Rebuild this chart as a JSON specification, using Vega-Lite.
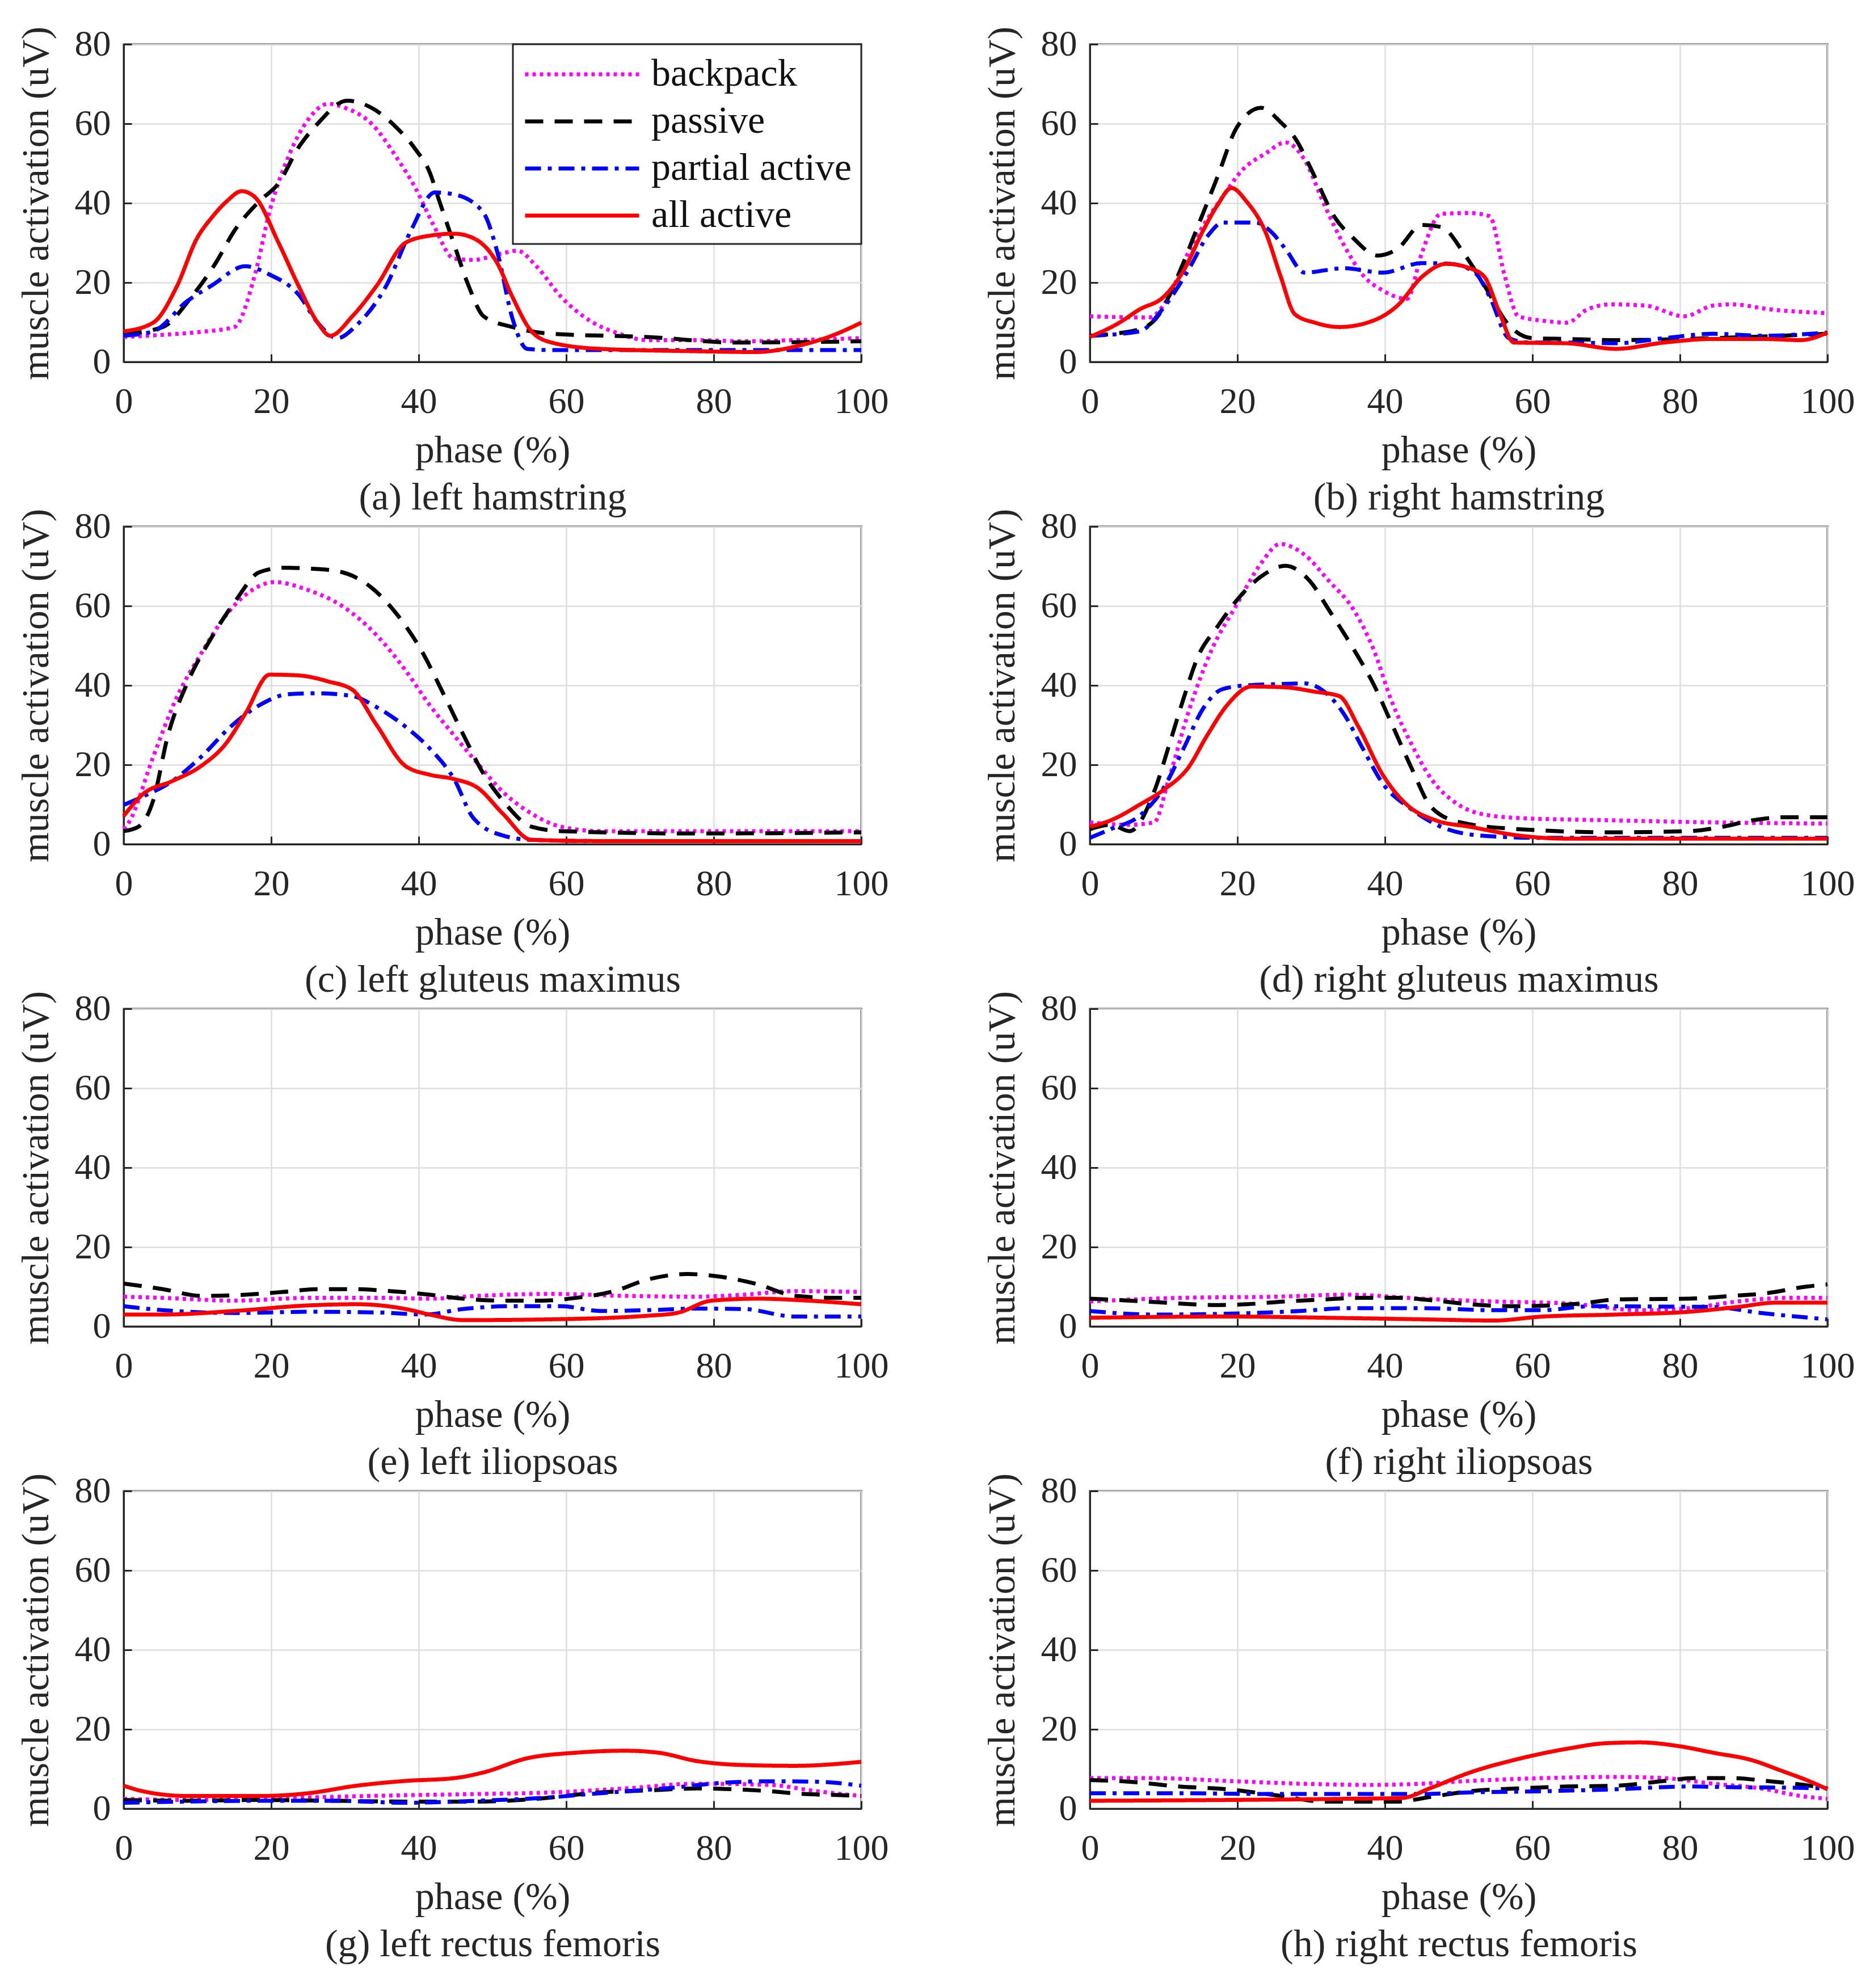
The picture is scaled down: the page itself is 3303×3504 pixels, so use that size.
{
  "$schema": "https://vega.github.io/schema/vega-lite/v6.json",
  "background": "white",
  "padding": {"left": 28, "top": 44, "right": 20, "bottom": 10},
  "datasets": {
    "emg": [
      {"panel":"a","cond":"backpack","x":0,"y":6.3},{"panel":"a","cond":"backpack","x":5,"y":6.8},{"panel":"a","cond":"backpack","x":10,"y":7.5},{"panel":"a","cond":"backpack","x":15,"y":8.8},{"panel":"a","cond":"backpack","x":17.8,"y":22},{"panel":"a","cond":"backpack","x":19.8,"y":38},{"panel":"a","cond":"backpack","x":22.4,"y":52},{"panel":"a","cond":"backpack","x":25,"y":61},{"panel":"a","cond":"backpack","x":27.7,"y":65},{"panel":"a","cond":"backpack","x":30,"y":64},{"panel":"a","cond":"backpack","x":33.6,"y":60},{"panel":"a","cond":"backpack","x":37,"y":51.5},{"panel":"a","cond":"backpack","x":39.5,"y":44},{"panel":"a","cond":"backpack","x":42,"y":34.5},{"panel":"a","cond":"backpack","x":44.8,"y":26},{"panel":"a","cond":"backpack","x":47.4,"y":25.7},{"panel":"a","cond":"backpack","x":51.4,"y":27.4},{"panel":"a","cond":"backpack","x":53.4,"y":28},{"panel":"a","cond":"backpack","x":56,"y":24},{"panel":"a","cond":"backpack","x":59.3,"y":16.4},{"panel":"a","cond":"backpack","x":63.2,"y":10.4},{"panel":"a","cond":"backpack","x":67.2,"y":7.1},{"panel":"a","cond":"backpack","x":71,"y":5.5},{"panel":"a","cond":"backpack","x":77.7,"y":5.5},{"panel":"a","cond":"backpack","x":84,"y":5.2},{"panel":"a","cond":"backpack","x":91,"y":5.5},{"panel":"a","cond":"backpack","x":100,"y":6},
      {"panel":"a","cond":"passive","x":0,"y":7},{"panel":"a","cond":"passive","x":5.3,"y":8.8},{"panel":"a","cond":"passive","x":9.2,"y":16.4},{"panel":"a","cond":"passive","x":12.5,"y":25},{"panel":"a","cond":"passive","x":15,"y":33},{"panel":"a","cond":"passive","x":18.4,"y":40.5},{"panel":"a","cond":"passive","x":21,"y":45},{"panel":"a","cond":"passive","x":23.7,"y":54},{"panel":"a","cond":"passive","x":26.3,"y":60},{"panel":"a","cond":"passive","x":30.3,"y":65.8},{"panel":"a","cond":"passive","x":33.6,"y":64},{"panel":"a","cond":"passive","x":37,"y":59},{"panel":"a","cond":"passive","x":39.5,"y":53.7},{"panel":"a","cond":"passive","x":41.5,"y":47.7},{"panel":"a","cond":"passive","x":42.8,"y":40.5},{"panel":"a","cond":"passive","x":44.8,"y":29.6},{"panel":"a","cond":"passive","x":46.8,"y":19},{"panel":"a","cond":"passive","x":48.8,"y":11.5},{"panel":"a","cond":"passive","x":52.7,"y":8.8},{"panel":"a","cond":"passive","x":58,"y":7.1},{"panel":"a","cond":"passive","x":71,"y":6.3},{"panel":"a","cond":"passive","x":83,"y":4.9},{"panel":"a","cond":"passive","x":100,"y":5.2},
      {"panel":"a","cond":"partial active","x":0,"y":6.6},{"panel":"a","cond":"partial active","x":4,"y":7.7},{"panel":"a","cond":"partial active","x":8.6,"y":15.3},{"panel":"a","cond":"partial active","x":11.9,"y":19.2},{"panel":"a","cond":"partial active","x":16.5,"y":24.1},{"panel":"a","cond":"partial active","x":19.8,"y":22},{"panel":"a","cond":"partial active","x":23.7,"y":17},{"panel":"a","cond":"partial active","x":26.3,"y":9.9},{"panel":"a","cond":"partial active","x":29,"y":6},{"panel":"a","cond":"partial active","x":31.6,"y":9.3},{"panel":"a","cond":"partial active","x":35.6,"y":19.2},{"panel":"a","cond":"partial active","x":38.9,"y":32.9},{"panel":"a","cond":"partial active","x":42.2,"y":42.7},{"panel":"a","cond":"partial active","x":44.8,"y":42.2},{"panel":"a","cond":"partial active","x":48.7,"y":37.8},{"panel":"a","cond":"partial active","x":50.7,"y":27.4},{"panel":"a","cond":"partial active","x":52.7,"y":11},{"panel":"a","cond":"partial active","x":54.7,"y":3.3},{"panel":"a","cond":"partial active","x":58,"y":3},{"panel":"a","cond":"partial active","x":100,"y":3},
      {"panel":"a","cond":"all active","x":0,"y":7.7},{"panel":"a","cond":"all active","x":4,"y":9.9},{"panel":"a","cond":"all active","x":7.2,"y":19},{"panel":"a","cond":"all active","x":9.9,"y":31},{"panel":"a","cond":"all active","x":12,"y":36.5},{"panel":"a","cond":"all active","x":14,"y":40.5},{"panel":"a","cond":"all active","x":16,"y":43},{"panel":"a","cond":"all active","x":17.8,"y":41.5},{"panel":"a","cond":"all active","x":21,"y":30},{"panel":"a","cond":"all active","x":23.7,"y":19.2},{"panel":"a","cond":"all active","x":26.3,"y":9.9},{"panel":"a","cond":"all active","x":28,"y":6.6},{"panel":"a","cond":"all active","x":31,"y":11.5},{"panel":"a","cond":"all active","x":34.3,"y":19.2},{"panel":"a","cond":"all active","x":38.2,"y":30},{"panel":"a","cond":"all active","x":41.5,"y":31.8},{"panel":"a","cond":"all active","x":44.8,"y":32.3},{"panel":"a","cond":"all active","x":47.4,"y":31.2},{"panel":"a","cond":"all active","x":50.7,"y":24.7},{"panel":"a","cond":"all active","x":52.7,"y":16.4},{"panel":"a","cond":"all active","x":55.3,"y":7.7},{"panel":"a","cond":"all active","x":58,"y":4.9},{"panel":"a","cond":"all active","x":64.6,"y":3.3},{"panel":"a","cond":"all active","x":77.7,"y":2.7},{"panel":"a","cond":"all active","x":85.6,"y":2.5},{"panel":"a","cond":"all active","x":92.2,"y":4.4},{"panel":"a","cond":"all active","x":96,"y":6.6},{"panel":"a","cond":"all active","x":100,"y":9.9},

      {"panel":"b","cond":"backpack","x":0,"y":11.5},{"panel":"b","cond":"backpack","x":8,"y":11.2},{"panel":"b","cond":"backpack","x":10.7,"y":16.4},{"panel":"b","cond":"backpack","x":13.3,"y":27.4},{"panel":"b","cond":"backpack","x":15.8,"y":35.6},{"panel":"b","cond":"backpack","x":18,"y":41.6},{"panel":"b","cond":"backpack","x":20.6,"y":48.2},{"panel":"b","cond":"backpack","x":23.9,"y":52.6},{"panel":"b","cond":"backpack","x":26.5,"y":55.3},{"panel":"b","cond":"backpack","x":29.1,"y":50.9},{"panel":"b","cond":"backpack","x":31.8,"y":39.5},{"panel":"b","cond":"backpack","x":34.4,"y":29.6},{"panel":"b","cond":"backpack","x":37,"y":21.9},{"panel":"b","cond":"backpack","x":39.7,"y":18},{"panel":"b","cond":"backpack","x":43,"y":15.9},{"panel":"b","cond":"backpack","x":45,"y":27.4},{"panel":"b","cond":"backpack","x":47.6,"y":37.3},{"panel":"b","cond":"backpack","x":51.5,"y":37.5},{"panel":"b","cond":"backpack","x":54.2,"y":36.7},{"panel":"b","cond":"backpack","x":56.2,"y":22},{"panel":"b","cond":"backpack","x":58.1,"y":11.5},{"panel":"b","cond":"backpack","x":61.4,"y":10.4},{"panel":"b","cond":"backpack","x":64.7,"y":9.9},{"panel":"b","cond":"backpack","x":67.4,"y":13.2},{"panel":"b","cond":"backpack","x":70.7,"y":14.5},{"panel":"b","cond":"backpack","x":75.3,"y":14.2},{"panel":"b","cond":"backpack","x":80.6,"y":11.5},{"panel":"b","cond":"backpack","x":84.5,"y":14.2},{"panel":"b","cond":"backpack","x":87.1,"y":14.5},{"panel":"b","cond":"backpack","x":92.4,"y":13.2},{"panel":"b","cond":"backpack","x":100,"y":12.3},
      {"panel":"b","cond":"passive","x":0,"y":6.6},{"panel":"b","cond":"passive","x":6.7,"y":8.2},{"panel":"b","cond":"passive","x":9.4,"y":12},{"panel":"b","cond":"passive","x":12,"y":22},{"panel":"b","cond":"passive","x":14.6,"y":34},{"panel":"b","cond":"passive","x":17.3,"y":46.6},{"panel":"b","cond":"passive","x":19.9,"y":59},{"panel":"b","cond":"passive","x":23.2,"y":64},{"panel":"b","cond":"passive","x":25.9,"y":60.3},{"panel":"b","cond":"passive","x":27.8,"y":56.4},{"panel":"b","cond":"passive","x":30.5,"y":46.6},{"panel":"b","cond":"passive","x":33.1,"y":36.7},{"panel":"b","cond":"passive","x":35.7,"y":31.2},{"panel":"b","cond":"passive","x":39,"y":26.8},{"panel":"b","cond":"passive","x":41.7,"y":28.5},{"panel":"b","cond":"passive","x":45,"y":34.5},{"panel":"b","cond":"passive","x":47.6,"y":34},{"panel":"b","cond":"passive","x":50.9,"y":26.8},{"panel":"b","cond":"passive","x":53.5,"y":19.2},{"panel":"b","cond":"passive","x":56.8,"y":9.3},{"panel":"b","cond":"passive","x":60,"y":6},{"panel":"b","cond":"passive","x":64.7,"y":5.8},{"panel":"b","cond":"passive","x":71.3,"y":5.5},{"panel":"b","cond":"passive","x":84.5,"y":6},{"panel":"b","cond":"passive","x":100,"y":7.1},
      {"panel":"b","cond":"partial active","x":0,"y":6.6},{"panel":"b","cond":"partial active","x":6.7,"y":7.7},{"panel":"b","cond":"partial active","x":10,"y":13.7},{"panel":"b","cond":"partial active","x":13.3,"y":23},{"panel":"b","cond":"partial active","x":16,"y":31.8},{"panel":"b","cond":"partial active","x":18,"y":35.1},{"panel":"b","cond":"partial active","x":22.5,"y":35.1},{"panel":"b","cond":"partial active","x":24.5,"y":32.9},{"panel":"b","cond":"partial active","x":26.5,"y":28.5},{"panel":"b","cond":"partial active","x":29.1,"y":22.5},{"panel":"b","cond":"partial active","x":34.4,"y":23.6},{"panel":"b","cond":"partial active","x":39.7,"y":22.5},{"panel":"b","cond":"partial active","x":45,"y":24.9},{"panel":"b","cond":"partial active","x":48.9,"y":24.7},{"panel":"b","cond":"partial active","x":52.2,"y":22.5},{"panel":"b","cond":"partial active","x":54.2,"y":16.4},{"panel":"b","cond":"partial active","x":56.8,"y":6},{"panel":"b","cond":"partial active","x":59.5,"y":4.9},{"panel":"b","cond":"partial active","x":64.7,"y":4.9},{"panel":"b","cond":"partial active","x":71.3,"y":4.7},{"panel":"b","cond":"partial active","x":77.9,"y":6},{"panel":"b","cond":"partial active","x":84.5,"y":7.1},{"panel":"b","cond":"partial active","x":91.1,"y":6.6},{"panel":"b","cond":"partial active","x":100,"y":7.4},
      {"panel":"b","cond":"all active","x":0,"y":6.3},{"panel":"b","cond":"all active","x":4,"y":9.9},{"panel":"b","cond":"all active","x":6.7,"y":13.2},{"panel":"b","cond":"all active","x":10,"y":16.4},{"panel":"b","cond":"all active","x":12.7,"y":23},{"panel":"b","cond":"all active","x":15.3,"y":32.9},{"panel":"b","cond":"all active","x":17.3,"y":39.5},{"panel":"b","cond":"all active","x":19.2,"y":43.8},{"panel":"b","cond":"all active","x":21.2,"y":40.5},{"panel":"b","cond":"all active","x":23.9,"y":32.3},{"panel":"b","cond":"all active","x":25.8,"y":21.9},{"panel":"b","cond":"all active","x":27.8,"y":12},{"panel":"b","cond":"all active","x":30.5,"y":9.9},{"panel":"b","cond":"all active","x":33.8,"y":8.8},{"panel":"b","cond":"all active","x":38.4,"y":10.4},{"panel":"b","cond":"all active","x":41.7,"y":14.2},{"panel":"b","cond":"all active","x":45,"y":21.4},{"panel":"b","cond":"all active","x":48.3,"y":24.7},{"panel":"b","cond":"all active","x":51.5,"y":23.6},{"panel":"b","cond":"all active","x":53.5,"y":21.4},{"panel":"b","cond":"all active","x":55.5,"y":12.6},{"panel":"b","cond":"all active","x":57.5,"y":4.9},{"panel":"b","cond":"all active","x":64.7,"y":4.7},{"panel":"b","cond":"all active","x":71.3,"y":3.3},{"panel":"b","cond":"all active","x":77.9,"y":4.9},{"panel":"b","cond":"all active","x":84.5,"y":5.8},{"panel":"b","cond":"all active","x":91.1,"y":5.8},{"panel":"b","cond":"all active","x":96.4,"y":5.5},{"panel":"b","cond":"all active","x":100,"y":7.4},

      {"panel":"c","cond":"backpack","x":0,"y":3.8},{"panel":"c","cond":"backpack","x":0.7,"y":5.5},{"panel":"c","cond":"backpack","x":4,"y":22},{"panel":"c","cond":"backpack","x":7.2,"y":37},{"panel":"c","cond":"backpack","x":10.5,"y":48},{"panel":"c","cond":"backpack","x":13.8,"y":57.5},{"panel":"c","cond":"backpack","x":17.1,"y":63.6},{"panel":"c","cond":"backpack","x":20.4,"y":66},{"panel":"c","cond":"backpack","x":25,"y":64},{"panel":"c","cond":"backpack","x":29.6,"y":60},{"panel":"c","cond":"backpack","x":34.3,"y":52.6},{"panel":"c","cond":"backpack","x":38.2,"y":43.8},{"panel":"c","cond":"backpack","x":41.5,"y":35},{"panel":"c","cond":"backpack","x":44.8,"y":27.4},{"panel":"c","cond":"backpack","x":48,"y":20.3},{"panel":"c","cond":"backpack","x":51.4,"y":13.2},{"panel":"c","cond":"backpack","x":55.3,"y":7.7},{"panel":"c","cond":"backpack","x":59.3,"y":4.4},{"panel":"c","cond":"backpack","x":64.6,"y":3.3},{"panel":"c","cond":"backpack","x":100,"y":3.3},
      {"panel":"c","cond":"passive","x":0,"y":3.3},{"panel":"c","cond":"passive","x":2,"y":4.4},{"panel":"c","cond":"passive","x":4,"y":11},{"panel":"c","cond":"passive","x":6,"y":27.4},{"panel":"c","cond":"passive","x":8.6,"y":40.5},{"panel":"c","cond":"passive","x":11.9,"y":52},{"panel":"c","cond":"passive","x":15.2,"y":61.4},{"panel":"c","cond":"passive","x":18.4,"y":68.5},{"panel":"c","cond":"passive","x":21.7,"y":69.6},{"panel":"c","cond":"passive","x":26.3,"y":69.3},{"panel":"c","cond":"passive","x":29.6,"y":68.5},{"panel":"c","cond":"passive","x":33.6,"y":64.6},{"panel":"c","cond":"passive","x":37,"y":58},{"panel":"c","cond":"passive","x":40.2,"y":49.3},{"panel":"c","cond":"passive","x":43.5,"y":37.3},{"panel":"c","cond":"passive","x":46.1,"y":27.4},{"panel":"c","cond":"passive","x":48.7,"y":18},{"panel":"c","cond":"passive","x":51.4,"y":11},{"panel":"c","cond":"passive","x":55.3,"y":4.4},{"panel":"c","cond":"passive","x":59.3,"y":3.3},{"panel":"c","cond":"passive","x":77.7,"y":2.7},{"panel":"c","cond":"passive","x":100,"y":3},
      {"panel":"c","cond":"partial active","x":0,"y":9.9},{"panel":"c","cond":"partial active","x":2.6,"y":12},{"panel":"c","cond":"partial active","x":6.6,"y":15.9},{"panel":"c","cond":"partial active","x":10.5,"y":22},{"panel":"c","cond":"partial active","x":14.5,"y":29.6},{"panel":"c","cond":"partial active","x":18.4,"y":35},{"panel":"c","cond":"partial active","x":22.4,"y":37.8},{"panel":"c","cond":"partial active","x":26.3,"y":38},{"panel":"c","cond":"partial active","x":31,"y":37.3},{"panel":"c","cond":"partial active","x":34.3,"y":34.5},{"panel":"c","cond":"partial active","x":38.2,"y":29.6},{"panel":"c","cond":"partial active","x":41.5,"y":24.1},{"panel":"c","cond":"partial active","x":44.8,"y":16.4},{"panel":"c","cond":"partial active","x":47.4,"y":6.6},{"panel":"c","cond":"partial active","x":51.4,"y":2.2},{"panel":"c","cond":"partial active","x":55.3,"y":1.1},{"panel":"c","cond":"partial active","x":64.6,"y":0.8},{"panel":"c","cond":"partial active","x":100,"y":0.8},
      {"panel":"c","cond":"all active","x":0,"y":7.1},{"panel":"c","cond":"all active","x":2.6,"y":12.6},{"panel":"c","cond":"all active","x":6.6,"y":15.9},{"panel":"c","cond":"all active","x":10.5,"y":19.7},{"panel":"c","cond":"all active","x":13.8,"y":25.2},{"panel":"c","cond":"all active","x":16.5,"y":32.9},{"panel":"c","cond":"all active","x":19.8,"y":42.7},{"panel":"c","cond":"all active","x":23.7,"y":42.5},{"panel":"c","cond":"all active","x":27.7,"y":41},{"panel":"c","cond":"all active","x":31,"y":38.9},{"panel":"c","cond":"all active","x":34.3,"y":30},{"panel":"c","cond":"all active","x":38.2,"y":19.7},{"panel":"c","cond":"all active","x":41.5,"y":17.5},{"panel":"c","cond":"all active","x":44.8,"y":16.4},{"panel":"c","cond":"all active","x":48,"y":14.2},{"panel":"c","cond":"all active","x":51.4,"y":7.7},{"panel":"c","cond":"all active","x":55.3,"y":1.1},{"panel":"c","cond":"all active","x":64.6,"y":0.8},{"panel":"c","cond":"all active","x":100,"y":0.8},

      {"panel":"d","cond":"backpack","x":0,"y":5.5},{"panel":"d","cond":"backpack","x":5.4,"y":4.9},{"panel":"d","cond":"backpack","x":8.7,"y":5.5},{"panel":"d","cond":"backpack","x":10.7,"y":16.4},{"panel":"d","cond":"backpack","x":13.3,"y":32.9},{"panel":"d","cond":"backpack","x":16.6,"y":49.3},{"panel":"d","cond":"backpack","x":19.9,"y":60.3},{"panel":"d","cond":"backpack","x":23.2,"y":70.7},{"panel":"d","cond":"backpack","x":25.8,"y":75.6},{"panel":"d","cond":"backpack","x":29.1,"y":72.9},{"panel":"d","cond":"backpack","x":32.4,"y":66.3},{"panel":"d","cond":"backpack","x":35.7,"y":59.2},{"panel":"d","cond":"backpack","x":38.4,"y":49.3},{"panel":"d","cond":"backpack","x":41,"y":35.6},{"panel":"d","cond":"backpack","x":43.6,"y":25.2},{"panel":"d","cond":"backpack","x":46.3,"y":16.4},{"panel":"d","cond":"backpack","x":49.6,"y":10.4},{"panel":"d","cond":"backpack","x":52.9,"y":7.7},{"panel":"d","cond":"backpack","x":58.1,"y":6.6},{"panel":"d","cond":"backpack","x":71.3,"y":6},{"panel":"d","cond":"backpack","x":84.5,"y":5.5},{"panel":"d","cond":"backpack","x":100,"y":5.2},
      {"panel":"d","cond":"passive","x":0,"y":3.8},{"panel":"d","cond":"passive","x":2.8,"y":4.9},{"panel":"d","cond":"passive","x":5.4,"y":3.3},{"panel":"d","cond":"passive","x":8.7,"y":13.2},{"panel":"d","cond":"passive","x":10.7,"y":24.7},{"panel":"d","cond":"passive","x":12.7,"y":36.7},{"panel":"d","cond":"passive","x":14.6,"y":47},{"panel":"d","cond":"passive","x":17.3,"y":54.8},{"panel":"d","cond":"passive","x":19.9,"y":61.4},{"panel":"d","cond":"passive","x":23.2,"y":67.4},{"panel":"d","cond":"passive","x":26.5,"y":70.1},{"panel":"d","cond":"passive","x":29.8,"y":66.3},{"panel":"d","cond":"passive","x":32.4,"y":59},{"panel":"d","cond":"passive","x":35.7,"y":49.3},{"panel":"d","cond":"passive","x":38.4,"y":40.5},{"panel":"d","cond":"passive","x":41,"y":30},{"panel":"d","cond":"passive","x":43.6,"y":19.2},{"panel":"d","cond":"passive","x":46.3,"y":9.3},{"panel":"d","cond":"passive","x":50.2,"y":5.5},{"panel":"d","cond":"passive","x":58.1,"y":3.8},{"panel":"d","cond":"passive","x":71.3,"y":3},{"panel":"d","cond":"passive","x":81.2,"y":3.3},{"panel":"d","cond":"passive","x":85.8,"y":4.4},{"panel":"d","cond":"passive","x":89.8,"y":6},{"panel":"d","cond":"passive","x":94.4,"y":6.8},{"panel":"d","cond":"passive","x":100,"y":6.8},
      {"panel":"d","cond":"partial active","x":0,"y":1.6},{"panel":"d","cond":"partial active","x":2.8,"y":3.8},{"panel":"d","cond":"partial active","x":6.7,"y":7.1},{"panel":"d","cond":"partial active","x":10,"y":14.2},{"panel":"d","cond":"partial active","x":12.7,"y":24.1},{"panel":"d","cond":"partial active","x":15.3,"y":34},{"panel":"d","cond":"partial active","x":17.9,"y":39},{"panel":"d","cond":"partial active","x":21.2,"y":40},{"panel":"d","cond":"partial active","x":25.2,"y":40.3},{"panel":"d","cond":"partial active","x":29.1,"y":40.5},{"panel":"d","cond":"partial active","x":31.8,"y":38.4},{"panel":"d","cond":"partial active","x":34.4,"y":32.9},{"panel":"d","cond":"partial active","x":37,"y":24.1},{"panel":"d","cond":"partial active","x":39.7,"y":15.3},{"panel":"d","cond":"partial active","x":43.6,"y":8.8},{"panel":"d","cond":"partial active","x":47.6,"y":4.4},{"panel":"d","cond":"partial active","x":52.9,"y":2.2},{"panel":"d","cond":"partial active","x":61.4,"y":1.6},{"panel":"d","cond":"partial active","x":100,"y":1.6},
      {"panel":"d","cond":"all active","x":0,"y":4.4},{"panel":"d","cond":"all active","x":2.8,"y":6},{"panel":"d","cond":"all active","x":6.7,"y":9.9},{"panel":"d","cond":"all active","x":10,"y":13.7},{"panel":"d","cond":"all active","x":13.3,"y":19.2},{"panel":"d","cond":"all active","x":15.9,"y":27.4},{"panel":"d","cond":"all active","x":18.6,"y":35},{"panel":"d","cond":"all active","x":21.9,"y":39.7},{"panel":"d","cond":"all active","x":26.5,"y":39.5},{"panel":"d","cond":"all active","x":30.5,"y":38.4},{"panel":"d","cond":"all active","x":33.8,"y":37.3},{"panel":"d","cond":"all active","x":36.4,"y":29.6},{"panel":"d","cond":"all active","x":39.7,"y":17.5},{"panel":"d","cond":"all active","x":43,"y":9.9},{"panel":"d","cond":"all active","x":46.9,"y":6},{"panel":"d","cond":"all active","x":51.5,"y":4.4},{"panel":"d","cond":"all active","x":58.1,"y":2.2},{"panel":"d","cond":"all active","x":64.7,"y":1.4},{"panel":"d","cond":"all active","x":100,"y":1.4},

      {"panel":"e","cond":"backpack","x":0,"y":7.5},{"panel":"e","cond":"backpack","x":5.3,"y":7.2},{"panel":"e","cond":"backpack","x":15,"y":6.5},{"panel":"e","cond":"backpack","x":25,"y":7.2},{"panel":"e","cond":"backpack","x":35,"y":7.2},{"panel":"e","cond":"backpack","x":41.5,"y":7},{"panel":"e","cond":"backpack","x":48,"y":7.7},{"panel":"e","cond":"backpack","x":58,"y":8.2},{"panel":"e","cond":"backpack","x":68,"y":7.7},{"panel":"e","cond":"backpack","x":77.7,"y":7.5},{"panel":"e","cond":"backpack","x":84,"y":8},{"panel":"e","cond":"backpack","x":91,"y":8.9},{"panel":"e","cond":"backpack","x":100,"y":8.7},
      {"panel":"e","cond":"passive","x":0,"y":10.8},{"panel":"e","cond":"passive","x":5.3,"y":9.4},{"panel":"e","cond":"passive","x":10.5,"y":7.7},{"panel":"e","cond":"passive","x":16.5,"y":8},{"panel":"e","cond":"passive","x":21.7,"y":8.7},{"panel":"e","cond":"passive","x":26.3,"y":9.4},{"panel":"e","cond":"passive","x":31,"y":9.4},{"panel":"e","cond":"passive","x":36.2,"y":8.9},{"panel":"e","cond":"passive","x":41.5,"y":8},{"panel":"e","cond":"passive","x":46,"y":7},{"panel":"e","cond":"passive","x":51.4,"y":6.5},{"panel":"e","cond":"passive","x":56.6,"y":6.5},{"panel":"e","cond":"passive","x":61.3,"y":7.2},{"panel":"e","cond":"passive","x":66.5,"y":8.9},{"panel":"e","cond":"passive","x":71,"y":11.8},{"panel":"e","cond":"passive","x":76.4,"y":13.2},{"panel":"e","cond":"passive","x":81,"y":12.5},{"panel":"e","cond":"passive","x":86,"y":10.6},{"panel":"e","cond":"passive","x":91,"y":7.7},{"panel":"e","cond":"passive","x":96.7,"y":7.2},{"panel":"e","cond":"passive","x":100,"y":7.2},
      {"panel":"e","cond":"partial active","x":0,"y":5.1},{"panel":"e","cond":"partial active","x":5.3,"y":4.1},{"panel":"e","cond":"partial active","x":15,"y":3.4},{"panel":"e","cond":"partial active","x":25,"y":3.7},{"panel":"e","cond":"partial active","x":35,"y":3.5},{"panel":"e","cond":"partial active","x":40.8,"y":3},{"panel":"e","cond":"partial active","x":46,"y":4.4},{"panel":"e","cond":"partial active","x":52.7,"y":5.1},{"panel":"e","cond":"partial active","x":59.3,"y":5.1},{"panel":"e","cond":"partial active","x":64.6,"y":3.9},{"panel":"e","cond":"partial active","x":71,"y":4.1},{"panel":"e","cond":"partial active","x":77.7,"y":4.5},{"panel":"e","cond":"partial active","x":84,"y":4.4},{"panel":"e","cond":"partial active","x":91,"y":2.5},{"panel":"e","cond":"partial active","x":100,"y":2.5},
      {"panel":"e","cond":"all active","x":0,"y":3},{"panel":"e","cond":"all active","x":5.3,"y":3},{"panel":"e","cond":"all active","x":15,"y":3.9},{"panel":"e","cond":"all active","x":25,"y":5.3},{"panel":"e","cond":"all active","x":31.6,"y":5.6},{"panel":"e","cond":"all active","x":38.2,"y":4.4},{"panel":"e","cond":"all active","x":41.5,"y":3},{"panel":"e","cond":"all active","x":46,"y":1.6},{"panel":"e","cond":"all active","x":58,"y":1.8},{"panel":"e","cond":"all active","x":71,"y":2.7},{"panel":"e","cond":"all active","x":75,"y":3.4},{"panel":"e","cond":"all active","x":79.7,"y":6.5},{"panel":"e","cond":"all active","x":86,"y":7},{"panel":"e","cond":"all active","x":92.8,"y":6.5},{"panel":"e","cond":"all active","x":100,"y":5.6},

      {"panel":"f","cond":"backpack","x":0,"y":6.3},{"panel":"f","cond":"backpack","x":12,"y":7.2},{"panel":"f","cond":"backpack","x":25.2,"y":7.5},{"panel":"f","cond":"backpack","x":35,"y":8},{"panel":"f","cond":"backpack","x":45,"y":7},{"panel":"f","cond":"backpack","x":54.8,"y":6.3},{"panel":"f","cond":"backpack","x":64.7,"y":5.8},{"panel":"f","cond":"backpack","x":74.6,"y":4.1},{"panel":"f","cond":"backpack","x":81.2,"y":4.6},{"panel":"f","cond":"backpack","x":87.8,"y":6.3},{"panel":"f","cond":"backpack","x":94.4,"y":7.2},{"panel":"f","cond":"backpack","x":100,"y":7.2},
      {"panel":"f","cond":"passive","x":0,"y":7},{"panel":"f","cond":"passive","x":5.4,"y":6.5},{"panel":"f","cond":"passive","x":12,"y":5.8},{"panel":"f","cond":"passive","x":16.6,"y":5.4},{"panel":"f","cond":"passive","x":21.2,"y":5.6},{"panel":"f","cond":"passive","x":26.5,"y":6.3},{"panel":"f","cond":"passive","x":31.8,"y":6.8},{"panel":"f","cond":"passive","x":36.4,"y":7.2},{"panel":"f","cond":"passive","x":41.7,"y":7.2},{"panel":"f","cond":"passive","x":46.9,"y":6.5},{"panel":"f","cond":"passive","x":51.5,"y":5.6},{"panel":"f","cond":"passive","x":58,"y":5.1},{"panel":"f","cond":"passive","x":66.7,"y":5.8},{"panel":"f","cond":"passive","x":71.3,"y":6.8},{"panel":"f","cond":"passive","x":81.2,"y":7},{"panel":"f","cond":"passive","x":87,"y":7.7},{"panel":"f","cond":"passive","x":91.8,"y":8.4},{"panel":"f","cond":"passive","x":97,"y":10},{"panel":"f","cond":"passive","x":100,"y":10.6},
      {"panel":"f","cond":"partial active","x":0,"y":3.9},{"panel":"f","cond":"partial active","x":8.7,"y":3},{"panel":"f","cond":"partial active","x":18.6,"y":3.2},{"panel":"f","cond":"partial active","x":28.5,"y":3.9},{"panel":"f","cond":"partial active","x":35,"y":4.6},{"panel":"f","cond":"partial active","x":45,"y":4.6},{"panel":"f","cond":"partial active","x":54.8,"y":4.1},{"panel":"f","cond":"partial active","x":61.4,"y":4.1},{"panel":"f","cond":"partial active","x":68,"y":5.1},{"panel":"f","cond":"partial active","x":77.9,"y":5},{"panel":"f","cond":"partial active","x":84.5,"y":4.9},{"panel":"f","cond":"partial active","x":91,"y":3.4},{"panel":"f","cond":"partial active","x":100,"y":1.8},
      {"panel":"f","cond":"all active","x":0,"y":2.2},{"panel":"f","cond":"all active","x":18.6,"y":2.5},{"panel":"f","cond":"all active","x":31.8,"y":2.2},{"panel":"f","cond":"all active","x":45,"y":1.8},{"panel":"f","cond":"all active","x":54.8,"y":1.5},{"panel":"f","cond":"all active","x":61.4,"y":2.5},{"panel":"f","cond":"all active","x":71.3,"y":3},{"panel":"f","cond":"all active","x":81.2,"y":3.7},{"panel":"f","cond":"all active","x":87.8,"y":4.9},{"panel":"f","cond":"all active","x":93,"y":6},{"panel":"f","cond":"all active","x":100,"y":6},

      {"panel":"g","cond":"backpack","x":0,"y":2.5},{"panel":"g","cond":"backpack","x":8.6,"y":2.2},{"panel":"g","cond":"backpack","x":18.4,"y":2.5},{"panel":"g","cond":"backpack","x":28.3,"y":3},{"panel":"g","cond":"backpack","x":38.2,"y":3.4},{"panel":"g","cond":"backpack","x":48,"y":3.7},{"panel":"g","cond":"backpack","x":58,"y":4.1},{"panel":"g","cond":"backpack","x":68,"y":5.1},{"panel":"g","cond":"backpack","x":77.7,"y":6.3},{"panel":"g","cond":"backpack","x":87.6,"y":6},{"panel":"g","cond":"backpack","x":94,"y":4.4},{"panel":"g","cond":"backpack","x":100,"y":3.2},
      {"panel":"g","cond":"passive","x":0,"y":2.2},{"panel":"g","cond":"passive","x":8.6,"y":2},{"panel":"g","cond":"passive","x":18.4,"y":2.2},{"panel":"g","cond":"passive","x":28.3,"y":2},{"panel":"g","cond":"passive","x":38.2,"y":1.8},{"panel":"g","cond":"passive","x":48,"y":1.8},{"panel":"g","cond":"passive","x":56,"y":2.5},{"panel":"g","cond":"passive","x":64.6,"y":4.1},{"panel":"g","cond":"passive","x":71,"y":4.6},{"panel":"g","cond":"passive","x":77.7,"y":5.1},{"panel":"g","cond":"passive","x":83,"y":4.9},{"panel":"g","cond":"passive","x":87.6,"y":4.4},{"panel":"g","cond":"passive","x":92.3,"y":3.7},{"panel":"g","cond":"passive","x":97.5,"y":3.4},{"panel":"g","cond":"passive","x":100,"y":3.2},
      {"panel":"g","cond":"partial active","x":0,"y":1.5},{"panel":"g","cond":"partial active","x":8.6,"y":1.8},{"panel":"g","cond":"partial active","x":18.4,"y":2},{"panel":"g","cond":"partial active","x":28.3,"y":2},{"panel":"g","cond":"partial active","x":38.2,"y":1.5},{"panel":"g","cond":"partial active","x":48,"y":2},{"panel":"g","cond":"partial active","x":56.6,"y":2.7},{"panel":"g","cond":"partial active","x":64.6,"y":3.9},{"panel":"g","cond":"partial active","x":74.5,"y":5.3},{"panel":"g","cond":"partial active","x":81,"y":6.5},{"panel":"g","cond":"partial active","x":87.6,"y":6.9},{"panel":"g","cond":"partial active","x":94,"y":6.8},{"panel":"g","cond":"partial active","x":100,"y":5.8},
      {"panel":"g","cond":"all active","x":0,"y":5.8},{"panel":"g","cond":"all active","x":2.6,"y":4.4},{"panel":"g","cond":"all active","x":8.6,"y":3.2},{"panel":"g","cond":"all active","x":18.4,"y":3.2},{"panel":"g","cond":"all active","x":25,"y":3.9},{"panel":"g","cond":"all active","x":31.6,"y":5.8},{"panel":"g","cond":"all active","x":38.2,"y":7},{"panel":"g","cond":"all active","x":44.8,"y":7.7},{"panel":"g","cond":"all active","x":48.7,"y":9.1},{"panel":"g","cond":"all active","x":54.7,"y":12.7},{"panel":"g","cond":"all active","x":61.3,"y":14.1},{"panel":"g","cond":"all active","x":68,"y":14.6},{"panel":"g","cond":"all active","x":72.5,"y":14.1},{"panel":"g","cond":"all active","x":77.7,"y":12},{"panel":"g","cond":"all active","x":84,"y":11},{"panel":"g","cond":"all active","x":91,"y":10.8},{"panel":"g","cond":"all active","x":100,"y":11.8},

      {"panel":"h","cond":"backpack","x":0,"y":7.7},{"panel":"h","cond":"backpack","x":8.7,"y":7.7},{"panel":"h","cond":"backpack","x":18.6,"y":7},{"panel":"h","cond":"backpack","x":28.5,"y":6.3},{"panel":"h","cond":"backpack","x":38.4,"y":6},{"panel":"h","cond":"backpack","x":45,"y":6.3},{"panel":"h","cond":"backpack","x":51.5,"y":7},{"panel":"h","cond":"backpack","x":61.4,"y":7.7},{"panel":"h","cond":"backpack","x":71.3,"y":8},{"panel":"h","cond":"backpack","x":77.9,"y":7.7},{"panel":"h","cond":"backpack","x":84.5,"y":6.3},{"panel":"h","cond":"backpack","x":91,"y":5.1},{"panel":"h","cond":"backpack","x":96.4,"y":3.2},{"panel":"h","cond":"backpack","x":100,"y":2.5},
      {"panel":"h","cond":"passive","x":0,"y":7.2},{"panel":"h","cond":"passive","x":5.4,"y":6.8},{"panel":"h","cond":"passive","x":12,"y":5.6},{"panel":"h","cond":"passive","x":18.6,"y":4.9},{"panel":"h","cond":"passive","x":25.2,"y":3.4},{"panel":"h","cond":"passive","x":31.8,"y":1.8},{"panel":"h","cond":"passive","x":41.7,"y":1.8},{"panel":"h","cond":"passive","x":46.3,"y":3},{"panel":"h","cond":"passive","x":51.5,"y":4.4},{"panel":"h","cond":"passive","x":58,"y":5.1},{"panel":"h","cond":"passive","x":64.7,"y":5.6},{"panel":"h","cond":"passive","x":71.3,"y":5.8},{"panel":"h","cond":"passive","x":77.9,"y":7},{"panel":"h","cond":"passive","x":81.9,"y":7.7},{"panel":"h","cond":"passive","x":87.1,"y":7.7},{"panel":"h","cond":"passive","x":91.7,"y":7},{"panel":"h","cond":"passive","x":96.8,"y":6},{"panel":"h","cond":"passive","x":100,"y":5.1},
      {"panel":"h","cond":"partial active","x":0,"y":3.9},{"panel":"h","cond":"partial active","x":12,"y":3.9},{"panel":"h","cond":"partial active","x":25.2,"y":3.7},{"panel":"h","cond":"partial active","x":45,"y":3.7},{"panel":"h","cond":"partial active","x":51.5,"y":4.1},{"panel":"h","cond":"partial active","x":61.4,"y":4.4},{"panel":"h","cond":"partial active","x":71.3,"y":4.9},{"panel":"h","cond":"partial active","x":81.2,"y":5.6},{"panel":"h","cond":"partial active","x":87.8,"y":5.4},{"panel":"h","cond":"partial active","x":94.4,"y":5.3},{"panel":"h","cond":"partial active","x":100,"y":5.1},
      {"panel":"h","cond":"all active","x":0,"y":2},{"panel":"h","cond":"all active","x":18.6,"y":2.2},{"panel":"h","cond":"all active","x":35,"y":2.5},{"panel":"h","cond":"all active","x":42.3,"y":2.7},{"panel":"h","cond":"all active","x":46.3,"y":5.3},{"panel":"h","cond":"all active","x":51.5,"y":9.1},{"panel":"h","cond":"all active","x":58,"y":12.5},{"panel":"h","cond":"all active","x":64.7,"y":15.1},{"panel":"h","cond":"all active","x":70,"y":16.5},{"panel":"h","cond":"all active","x":74.6,"y":16.7},{"panel":"h","cond":"all active","x":79.7,"y":15.8},{"panel":"h","cond":"all active","x":84.5,"y":14.1},{"panel":"h","cond":"all active","x":89.8,"y":12.2},{"panel":"h","cond":"all active","x":93.7,"y":9.6},{"panel":"h","cond":"all active","x":97.7,"y":6.8},{"panel":"h","cond":"all active","x":100,"y":4.9}
    ]
  },
  "data": {"name": "emg"},
  "columns": 2,
  "spacing": {"row": -19, "column": 163},
  "resolve": {"legend": {"color": "independent", "strokeDash": "independent"}},
  "concat": [
    {
      "width": 1300, "height": 560,
      "transform": [{"filter": "datum.panel == 'a'"}],
      "mark": {"type": "line", "interpolate": "monotone", "strokeWidth": 7},
      "encoding": {
        "x": {"field": "x", "type": "quantitative", "scale": {"domain": [0, 100]}, "axis": {"title": ["phase (%)", "(a) left hamstring"]}},
        "y": {"field": "y", "type": "quantitative", "scale": {"domain": [0, 80]}, "axis": {"title": "muscle activation (uV)"}},
        "color": {"field": "cond", "type": "nominal", "title": null, "scale": {"domain": ["backpack", "passive", "partial active", "all active"], "range": ["#ff00ff", "#000000", "#0000ff", "#ff0000"]}, "legend": {"orient": "top-right"}},
        "strokeDash": {"field": "cond", "type": "nominal", "title": null, "scale": {"domain": ["backpack", "passive", "partial active", "all active"], "range": [[6, 7], [32, 20], [28, 12, 7, 12], [1, 0]]}, "legend": {"orient": "top-right"}}
      }
    },
    {
      "width": 1300, "height": 560,
      "transform": [{"filter": "datum.panel == 'b'"}],
      "mark": {"type": "line", "interpolate": "monotone", "strokeWidth": 7},
      "encoding": {
        "x": {"field": "x", "type": "quantitative", "scale": {"domain": [0, 100]}, "axis": {"title": ["phase (%)", "(b) right hamstring"]}},
        "y": {"field": "y", "type": "quantitative", "scale": {"domain": [0, 80]}, "axis": {"title": "muscle activation (uV)"}},
        "color": {"field": "cond", "type": "nominal", "legend": null},
        "strokeDash": {"field": "cond", "type": "nominal", "legend": null}
      }
    },
    {
      "width": 1300, "height": 560,
      "transform": [{"filter": "datum.panel == 'c'"}],
      "mark": {"type": "line", "interpolate": "monotone", "strokeWidth": 7},
      "encoding": {
        "x": {"field": "x", "type": "quantitative", "scale": {"domain": [0, 100]}, "axis": {"title": ["phase (%)", "(c) left gluteus maximus"]}},
        "y": {"field": "y", "type": "quantitative", "scale": {"domain": [0, 80]}, "axis": {"title": "muscle activation (uV)"}},
        "color": {"field": "cond", "type": "nominal", "legend": null},
        "strokeDash": {"field": "cond", "type": "nominal", "legend": null}
      }
    },
    {
      "width": 1300, "height": 560,
      "transform": [{"filter": "datum.panel == 'd'"}],
      "mark": {"type": "line", "interpolate": "monotone", "strokeWidth": 7},
      "encoding": {
        "x": {"field": "x", "type": "quantitative", "scale": {"domain": [0, 100]}, "axis": {"title": ["phase (%)", "(d) right gluteus maximus"]}},
        "y": {"field": "y", "type": "quantitative", "scale": {"domain": [0, 80]}, "axis": {"title": "muscle activation (uV)"}},
        "color": {"field": "cond", "type": "nominal", "legend": null},
        "strokeDash": {"field": "cond", "type": "nominal", "legend": null}
      }
    },
    {
      "width": 1300, "height": 560,
      "transform": [{"filter": "datum.panel == 'e'"}],
      "mark": {"type": "line", "interpolate": "monotone", "strokeWidth": 7},
      "encoding": {
        "x": {"field": "x", "type": "quantitative", "scale": {"domain": [0, 100]}, "axis": {"title": ["phase (%)", "(e) left iliopsoas"]}},
        "y": {"field": "y", "type": "quantitative", "scale": {"domain": [0, 80]}, "axis": {"title": "muscle activation (uV)"}},
        "color": {"field": "cond", "type": "nominal", "legend": null},
        "strokeDash": {"field": "cond", "type": "nominal", "legend": null}
      }
    },
    {
      "width": 1300, "height": 560,
      "transform": [{"filter": "datum.panel == 'f'"}],
      "mark": {"type": "line", "interpolate": "monotone", "strokeWidth": 7},
      "encoding": {
        "x": {"field": "x", "type": "quantitative", "scale": {"domain": [0, 100]}, "axis": {"title": ["phase (%)", "(f) right iliopsoas"]}},
        "y": {"field": "y", "type": "quantitative", "scale": {"domain": [0, 80]}, "axis": {"title": "muscle activation (uV)"}},
        "color": {"field": "cond", "type": "nominal", "legend": null},
        "strokeDash": {"field": "cond", "type": "nominal", "legend": null}
      }
    },
    {
      "width": 1300, "height": 560,
      "transform": [{"filter": "datum.panel == 'g'"}],
      "mark": {"type": "line", "interpolate": "monotone", "strokeWidth": 7},
      "encoding": {
        "x": {"field": "x", "type": "quantitative", "scale": {"domain": [0, 100]}, "axis": {"title": ["phase (%)", "(g) left rectus femoris"]}},
        "y": {"field": "y", "type": "quantitative", "scale": {"domain": [0, 80]}, "axis": {"title": "muscle activation (uV)"}},
        "color": {"field": "cond", "type": "nominal", "legend": null},
        "strokeDash": {"field": "cond", "type": "nominal", "legend": null}
      }
    },
    {
      "width": 1300, "height": 560,
      "transform": [{"filter": "datum.panel == 'h'"}],
      "mark": {"type": "line", "interpolate": "monotone", "strokeWidth": 7},
      "encoding": {
        "x": {"field": "x", "type": "quantitative", "scale": {"domain": [0, 100]}, "axis": {"title": ["phase (%)", "(h) right rectus femoris"]}},
        "y": {"field": "y", "type": "quantitative", "scale": {"domain": [0, 80]}, "axis": {"title": "muscle activation (uV)"}},
        "color": {"field": "cond", "type": "nominal", "legend": null},
        "strokeDash": {"field": "cond", "type": "nominal", "legend": null}
      }
    }
  ],
  "config": {
    "font": "Liberation Serif",
    "view": {"stroke": "#262626", "strokeWidth": 3},
    "axis": {
      "labelFont": "Liberation Serif", "labelFontSize": 64, "labelColor": "#262626",
      "titleFont": "Liberation Serif", "titleFontSize": 68, "titleFontWeight": "normal", "titleColor": "#262626",
      "domainColor": "#262626", "domainWidth": 3,
      "tickColor": "#262626", "tickWidth": 3, "tickSize": -14,
      "gridColor": "#dedede", "gridWidth": 2.5,
      "labelOverlap": false, "labelFlush": false
    },
    "axisX": {"tickCount": 5, "labelPadding": 52, "titlePadding": 20, "titleLineHeight": 83},
    "axisY": {"tickCount": 4, "labelPadding": 37, "titlePadding": 33},
    "legend": {
      "offset": 0, "padding": 16, "strokeColor": "#262626", "strokeWidth": 3, "fillColor": "white",
      "labelFont": "Liberation Serif", "labelFontSize": 68, "labelColor": "#111111", "labelLimit": 1000,
      "symbolType": "M-3,0H3", "symbolSize": 4489, "symbolStrokeWidth": 7, "symbolOffset": 69,
      "rowPadding": 12, "labelOffset": 85
    },
    "line": {"strokeCap": "butt"}
  }
}
